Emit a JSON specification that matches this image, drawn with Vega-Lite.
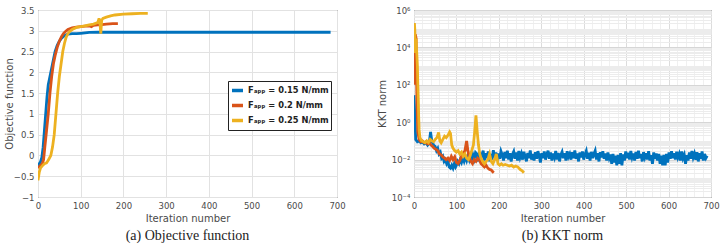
{
  "$schema": "https://vega.github.io/schema/vega-lite/v6.json",
  "padding": {"left": 3, "top": 5, "right": 4, "bottom": 4},
  "bounds": "flush",
  "spacing": 77,
  "config": {
    "font": "DejaVu Sans",
    "view": {"stroke": "#333333", "strokeWidth": 1},
    "axis": {"labelFont": "DejaVu Sans", "labelFontSize": 8.5, "labelColor": "#4a4a4a", "titleFont": "DejaVu Sans", "titleFontSize": 10, "titleColor": "#4a4a4a", "titleFontWeight": "normal", "domain": false, "tickSize": 0, "gridColor": "#e2e2e2", "gridOpacity": 1, "labelPadding": 4, "labelFlush": false},
    "legend": {"strokeColor": "#222222", "fillColor": "white", "padding": 2, "labelFontWeight": "bold", "labelFontSize": 8.3, "labelColor": "#222222", "symbolType": "stroke", "symbolStrokeWidth": 3.5, "symbolSize": 120, "rowPadding": 0, "labelOffset": 3, "cornerRadius": 0},
    "title": {"font": "Liberation Serif", "fontSize": 14, "fontWeight": "normal", "color": "#222222"}
  },
  "datasets": {
    "obj": [
      {"it": 0, "v": -0.25, "s": "0.15"}, {"it": 3, "v": -0.2, "s": "0.15"}, {"it": 6, "v": -0.15, "s": "0.15"}, {"it": 9, "v": -0.05, "s": "0.15"}, {"it": 12, "v": 0.2, "s": "0.15"}, {"it": 15, "v": 0.6, "s": "0.15"}, {"it": 18, "v": 1.0, "s": "0.15"}, {"it": 21, "v": 1.4, "s": "0.15"}, {"it": 24, "v": 1.7, "s": "0.15"}, {"it": 27, "v": 1.85, "s": "0.15"}, {"it": 30, "v": 2.0, "s": "0.15"}, {"it": 33, "v": 2.15, "s": "0.15"}, {"it": 36, "v": 2.3, "s": "0.15"}, {"it": 40, "v": 2.5, "s": "0.15"}, {"it": 45, "v": 2.65, "s": "0.15"}, {"it": 50, "v": 2.75, "s": "0.15"}, {"it": 55, "v": 2.82, "s": "0.15"}, {"it": 60, "v": 2.87, "s": "0.15"}, {"it": 65, "v": 2.9, "s": "0.15"}, {"it": 70, "v": 2.92, "s": "0.15"}, {"it": 80, "v": 2.93, "s": "0.15"}, {"it": 90, "v": 2.93, "s": "0.15"}, {"it": 100, "v": 2.94, "s": "0.15"}, {"it": 110, "v": 2.95, "s": "0.15"}, {"it": 120, "v": 2.96, "s": "0.15"}, {"it": 140, "v": 2.965, "s": "0.15"}, {"it": 300, "v": 2.965, "s": "0.15"}, {"it": 500, "v": 2.965, "s": "0.15"}, {"it": 685, "v": 2.965, "s": "0.15"},
      {"it": 0, "v": -0.3, "s": "0.2"}, {"it": 5, "v": -0.25, "s": "0.2"}, {"it": 10, "v": -0.2, "s": "0.2"}, {"it": 13, "v": -0.1, "s": "0.2"}, {"it": 16, "v": 0.2, "s": "0.2"}, {"it": 20, "v": 0.6, "s": "0.2"}, {"it": 24, "v": 1.0, "s": "0.2"}, {"it": 28, "v": 1.5, "s": "0.2"}, {"it": 32, "v": 1.9, "s": "0.2"}, {"it": 36, "v": 2.2, "s": "0.2"}, {"it": 40, "v": 2.4, "s": "0.2"}, {"it": 45, "v": 2.6, "s": "0.2"}, {"it": 50, "v": 2.75, "s": "0.2"}, {"it": 55, "v": 2.86, "s": "0.2"}, {"it": 60, "v": 2.94, "s": "0.2"}, {"it": 65, "v": 2.99, "s": "0.2"}, {"it": 70, "v": 3.03, "s": "0.2"}, {"it": 80, "v": 3.07, "s": "0.2"}, {"it": 90, "v": 3.09, "s": "0.2"}, {"it": 100, "v": 3.1, "s": "0.2"}, {"it": 110, "v": 3.11, "s": "0.2"}, {"it": 120, "v": 3.12, "s": "0.2"}, {"it": 125, "v": 3.1, "s": "0.2"}, {"it": 130, "v": 3.13, "s": "0.2"}, {"it": 140, "v": 3.14, "s": "0.2"}, {"it": 150, "v": 3.15, "s": "0.2"}, {"it": 160, "v": 3.16, "s": "0.2"}, {"it": 175, "v": 3.17, "s": "0.2"}, {"it": 187, "v": 3.17, "s": "0.2"},
      {"it": 0, "v": -0.6, "s": "0.25"}, {"it": 3, "v": -0.4, "s": "0.25"}, {"it": 6, "v": -0.3, "s": "0.25"}, {"it": 10, "v": -0.25, "s": "0.25"}, {"it": 15, "v": -0.2, "s": "0.25"}, {"it": 20, "v": -0.18, "s": "0.25"}, {"it": 25, "v": -0.1, "s": "0.25"}, {"it": 30, "v": 0.0, "s": "0.25"}, {"it": 34, "v": 0.2, "s": "0.25"}, {"it": 38, "v": 0.5, "s": "0.25"}, {"it": 42, "v": 1.0, "s": "0.25"}, {"it": 46, "v": 1.5, "s": "0.25"}, {"it": 50, "v": 1.9, "s": "0.25"}, {"it": 54, "v": 2.2, "s": "0.25"}, {"it": 58, "v": 2.5, "s": "0.25"}, {"it": 62, "v": 2.7, "s": "0.25"}, {"it": 66, "v": 2.85, "s": "0.25"}, {"it": 70, "v": 2.93, "s": "0.25"}, {"it": 75, "v": 2.99, "s": "0.25"}, {"it": 80, "v": 3.03, "s": "0.25"}, {"it": 90, "v": 3.08, "s": "0.25"}, {"it": 100, "v": 3.1, "s": "0.25"}, {"it": 110, "v": 3.12, "s": "0.25"}, {"it": 120, "v": 3.14, "s": "0.25"}, {"it": 130, "v": 3.16, "s": "0.25"}, {"it": 140, "v": 3.2, "s": "0.25"}, {"it": 143, "v": 3.3, "s": "0.25"}, {"it": 145, "v": 3.2, "s": "0.25"}, {"it": 147, "v": 2.93, "s": "0.25"}, {"it": 149, "v": 3.25, "s": "0.25"}, {"it": 152, "v": 3.3, "s": "0.25"}, {"it": 160, "v": 3.33, "s": "0.25"}, {"it": 170, "v": 3.36, "s": "0.25"}, {"it": 180, "v": 3.38, "s": "0.25"}, {"it": 200, "v": 3.4, "s": "0.25"}, {"it": 220, "v": 3.41, "s": "0.25"}, {"it": 240, "v": 3.42, "s": "0.25"}, {"it": 257, "v": 3.42, "s": "0.25"}
    ],
    "kkt": [
      {"it": 0, "v": 28, "s": "0.15"}, {"it": 2, "v": 2, "s": "0.15"}, {"it": 4, "v": 0.12, "s": "0.15"}, {"it": 8, "v": 0.09, "s": "0.15"}, {"it": 12, "v": 0.1, "s": "0.15"}, {"it": 16, "v": 0.08, "s": "0.15"}, {"it": 20, "v": 0.09, "s": "0.15"}, {"it": 24, "v": 0.07, "s": "0.15"}, {"it": 28, "v": 0.08, "s": "0.15"}, {"it": 32, "v": 0.06, "s": "0.15"}, {"it": 36, "v": 0.08, "s": "0.15"}, {"it": 39, "v": 0.3, "s": "0.15"}, {"it": 42, "v": 0.1, "s": "0.15"}, {"it": 46, "v": 0.06, "s": "0.15"}, {"it": 50, "v": 0.05, "s": "0.15"}, {"it": 53, "v": 0.03, "s": "0.15"}, {"it": 56, "v": 0.04, "s": "0.15"}, {"it": 59, "v": 0.02, "s": "0.15"}, {"it": 62, "v": 0.025, "s": "0.15"}, {"it": 65, "v": 0.012, "s": "0.15"}, {"it": 68, "v": 0.015, "s": "0.15"}, {"it": 71, "v": 0.008, "s": "0.15"}, {"it": 74, "v": 0.01, "s": "0.15"}, {"it": 77, "v": 0.006, "s": "0.15"}, {"it": 80, "v": 0.008, "s": "0.15"}, {"it": 83, "v": 0.004, "s": "0.15"}, {"it": 86, "v": 0.0035, "s": "0.15"}, {"it": 89, "v": 0.005, "s": "0.15"}, {"it": 92, "v": 0.0035, "s": "0.15"}, {"it": 95, "v": 0.006, "s": "0.15"}, {"it": 98, "v": 0.004, "s": "0.15"},
      {"it": 100, "v": 0.005, "s": "0.15"}, {"it": 103, "v": 0.008, "s": "0.15"}, {"it": 106, "v": 0.006, "s": "0.15"}, {"it": 109, "v": 0.01, "s": "0.15"}, {"it": 112, "v": 0.007, "s": "0.15"}, {"it": 115, "v": 0.012, "s": "0.15"}, {"it": 118, "v": 0.008, "s": "0.15"}, {"it": 121, "v": 0.014, "s": "0.15"}, {"it": 124, "v": 0.009, "s": "0.15"}, {"it": 127, "v": 0.016, "s": "0.15"}, {"it": 130, "v": 0.01, "s": "0.15"}, {"it": 133, "v": 0.02, "s": "0.15"}, {"it": 136, "v": 0.009, "s": "0.15"}, {"it": 139, "v": 0.018, "s": "0.15"}, {"it": 142, "v": 0.011, "s": "0.15"}, {"it": 145, "v": 0.024, "s": "0.15"},
      {"it": 148, "v": 0.02, "s": "0.15"}, {"it": 151, "v": 0.008, "s": "0.15"}, {"it": 154, "v": 0.025, "s": "0.15"}, {"it": 157, "v": 0.011, "s": "0.15"}, {"it": 160, "v": 0.018, "s": "0.15"}, {"it": 163, "v": 0.03, "s": "0.15"}, {"it": 166, "v": 0.009, "s": "0.15"}, {"it": 169, "v": 0.022, "s": "0.15"}, {"it": 172, "v": 0.012, "s": "0.15"}, {"it": 175, "v": 0.027, "s": "0.15"}, {"it": 178, "v": 0.008, "s": "0.15"}, {"it": 181, "v": 0.02, "s": "0.15"}, {"it": 184, "v": 0.01, "s": "0.15"}, {"it": 187, "v": 0.032, "s": "0.15"}, {"it": 190, "v": 0.013, "s": "0.15"}, {"it": 193, "v": 0.024, "s": "0.15"}, {"it": 196, "v": 0.009, "s": "0.15"}, {"it": 199, "v": 0.021, "s": "0.15"}, {"it": 202, "v": 0.011, "s": "0.15"}, {"it": 205, "v": 0.028, "s": "0.15"}, {"it": 208, "v": 0.018, "s": "0.15"}, {"it": 211, "v": 0.009, "s": "0.15"}, {"it": 214, "v": 0.026, "s": "0.15"}, {"it": 217, "v": 0.012, "s": "0.15"}, {"it": 220, "v": 0.03, "s": "0.15"}, {"it": 223, "v": 0.01, "s": "0.15"}, {"it": 226, "v": 0.022, "s": "0.15"}, {"it": 229, "v": 0.008, "s": "0.15"}, {"it": 232, "v": 0.019, "s": "0.15"}, {"it": 235, "v": 0.027, "s": "0.15"}, {"it": 238, "v": 0.011, "s": "0.15"}, {"it": 241, "v": 0.024, "s": "0.15"}, {"it": 244, "v": 0.009, "s": "0.15"}, {"it": 247, "v": 0.029, "s": "0.15"}, {"it": 250, "v": 0.013, "s": "0.15"}, {"it": 253, "v": 0.021, "s": "0.15"}, {"it": 256, "v": 0.01, "s": "0.15"}, {"it": 259, "v": 0.026, "s": "0.15"}, {"it": 262, "v": 0.015, "s": "0.15"}, {"it": 265, "v": 0.008, "s": "0.15"}, {"it": 268, "v": 0.023, "s": "0.15"}, {"it": 271, "v": 0.012, "s": "0.15"}, {"it": 274, "v": 0.031, "s": "0.15"}, {"it": 277, "v": 0.01, "s": "0.15"}, {"it": 280, "v": 0.02, "s": "0.15"}, {"it": 283, "v": 0.009, "s": "0.15"}, {"it": 286, "v": 0.025, "s": "0.15"}, {"it": 289, "v": 0.011, "s": "0.15"}, {"it": 292, "v": 0.028, "s": "0.15"}, {"it": 295, "v": 0.016, "s": "0.15"}, {"it": 298, "v": 0.007, "s": "0.15"}, {"it": 301, "v": 0.022, "s": "0.15"}, {"it": 304, "v": 0.012, "s": "0.15"}, {"it": 307, "v": 0.027, "s": "0.15"}, {"it": 310, "v": 0.01, "s": "0.15"}, {"it": 313, "v": 0.019, "s": "0.15"}, {"it": 316, "v": 0.03, "s": "0.15"}, {"it": 319, "v": 0.011, "s": "0.15"}, {"it": 322, "v": 0.024, "s": "0.15"}, {"it": 325, "v": 0.009, "s": "0.15"}, {"it": 328, "v": 0.021, "s": "0.15"}, {"it": 331, "v": 0.013, "s": "0.15"}, {"it": 334, "v": 0.029, "s": "0.15"}, {"it": 337, "v": 0.01, "s": "0.15"}, {"it": 340, "v": 0.023, "s": "0.15"}, {"it": 343, "v": 0.008, "s": "0.15"}, {"it": 346, "v": 0.018, "s": "0.15"}, {"it": 349, "v": 0.026, "s": "0.15"}, {"it": 352, "v": 0.012, "s": "0.15"}, {"it": 355, "v": 0.022, "s": "0.15"}, {"it": 358, "v": 0.009, "s": "0.15"}, {"it": 361, "v": 0.028, "s": "0.15"}, {"it": 364, "v": 0.014, "s": "0.15"}, {"it": 367, "v": 0.02, "s": "0.15"}, {"it": 370, "v": 0.01, "s": "0.15"}, {"it": 373, "v": 0.025, "s": "0.15"}, {"it": 376, "v": 0.012, "s": "0.15"}, {"it": 379, "v": 0.031, "s": "0.15"}, {"it": 382, "v": 0.011, "s": "0.15"}, {"it": 385, "v": 0.021, "s": "0.15"}, {"it": 388, "v": 0.008, "s": "0.15"}, {"it": 391, "v": 0.024, "s": "0.15"}, {"it": 394, "v": 0.013, "s": "0.15"}, {"it": 397, "v": 0.027, "s": "0.15"}, {"it": 400, "v": 0.01, "s": "0.15"}, {"it": 403, "v": 0.019, "s": "0.15"}, {"it": 406, "v": 0.029, "s": "0.15"}, {"it": 409, "v": 0.011, "s": "0.15"}, {"it": 412, "v": 0.023, "s": "0.15"}, {"it": 415, "v": 0.009, "s": "0.15"}, {"it": 418, "v": 0.026, "s": "0.15"}, {"it": 421, "v": 0.012, "s": "0.15"}, {"it": 424, "v": 0.02, "s": "0.15"}, {"it": 427, "v": 0.03, "s": "0.15"}, {"it": 430, "v": 0.01, "s": "0.15"}, {"it": 433, "v": 0.022, "s": "0.15"}, {"it": 436, "v": 0.008, "s": "0.15"}, {"it": 439, "v": 0.025, "s": "0.15"}, {"it": 442, "v": 0.013, "s": "0.15"}, {"it": 445, "v": 0.028, "s": "0.15"}, {"it": 448, "v": 0.011, "s": "0.15"}, {"it": 451, "v": 0.021, "s": "0.15"}, {"it": 454, "v": 0.009, "s": "0.15"}, {"it": 457, "v": 0.024, "s": "0.15"}, {"it": 460, "v": 0.012, "s": "0.15"}, {"it": 463, "v": 0.019, "s": "0.15"}, {"it": 466, "v": 0.006, "s": "0.15"}, {"it": 469, "v": 0.02, "s": "0.15"}, {"it": 472, "v": 0.007, "s": "0.15"}, {"it": 475, "v": 0.016, "s": "0.15"}, {"it": 478, "v": 0.005, "s": "0.15"}, {"it": 481, "v": 0.018, "s": "0.15"}, {"it": 484, "v": 0.006, "s": "0.15"}, {"it": 487, "v": 0.022, "s": "0.15"}, {"it": 490, "v": 0.005, "s": "0.15"}, {"it": 493, "v": 0.019, "s": "0.15"}, {"it": 496, "v": 0.009, "s": "0.15"}, {"it": 499, "v": 0.027, "s": "0.15"}, {"it": 502, "v": 0.012, "s": "0.15"}, {"it": 505, "v": 0.023, "s": "0.15"}, {"it": 508, "v": 0.01, "s": "0.15"}, {"it": 511, "v": 0.029, "s": "0.15"}, {"it": 514, "v": 0.013, "s": "0.15"}, {"it": 517, "v": 0.021, "s": "0.15"}, {"it": 520, "v": 0.009, "s": "0.15"}, {"it": 523, "v": 0.026, "s": "0.15"}, {"it": 526, "v": 0.011, "s": "0.15"}, {"it": 529, "v": 0.03, "s": "0.15"}, {"it": 532, "v": 0.012, "s": "0.15"}, {"it": 535, "v": 0.02, "s": "0.15"}, {"it": 538, "v": 0.008, "s": "0.15"}, {"it": 541, "v": 0.025, "s": "0.15"}, {"it": 544, "v": 0.013, "s": "0.15"}, {"it": 547, "v": 0.022, "s": "0.15"}, {"it": 550, "v": 0.01, "s": "0.15"}, {"it": 553, "v": 0.028, "s": "0.15"}, {"it": 556, "v": 0.009, "s": "0.15"}, {"it": 559, "v": 0.017, "s": "0.15"}, {"it": 562, "v": 0.006, "s": "0.15"}, {"it": 565, "v": 0.024, "s": "0.15"}, {"it": 568, "v": 0.011, "s": "0.15"}, {"it": 571, "v": 0.021, "s": "0.15"}, {"it": 574, "v": 0.009, "s": "0.15"}, {"it": 577, "v": 0.02, "s": "0.15"}, {"it": 580, "v": 0.006, "s": "0.15"}, {"it": 583, "v": 0.016, "s": "0.15"}, {"it": 586, "v": 0.005, "s": "0.15"}, {"it": 589, "v": 0.018, "s": "0.15"}, {"it": 592, "v": 0.005, "s": "0.15"}, {"it": 595, "v": 0.02, "s": "0.15"}, {"it": 598, "v": 0.007, "s": "0.15"}, {"it": 601, "v": 0.024, "s": "0.15"}, {"it": 604, "v": 0.011, "s": "0.15"}, {"it": 607, "v": 0.028, "s": "0.15"}, {"it": 610, "v": 0.012, "s": "0.15"}, {"it": 613, "v": 0.022, "s": "0.15"}, {"it": 616, "v": 0.01, "s": "0.15"}, {"it": 619, "v": 0.026, "s": "0.15"}, {"it": 622, "v": 0.013, "s": "0.15"}, {"it": 625, "v": 0.02, "s": "0.15"}, {"it": 628, "v": 0.009, "s": "0.15"}, {"it": 631, "v": 0.027, "s": "0.15"}, {"it": 634, "v": 0.012, "s": "0.15"}, {"it": 637, "v": 0.018, "s": "0.15"}, {"it": 640, "v": 0.006, "s": "0.15"}, {"it": 643, "v": 0.017, "s": "0.15"}, {"it": 646, "v": 0.009, "s": "0.15"}, {"it": 649, "v": 0.024, "s": "0.15"}, {"it": 652, "v": 0.011, "s": "0.15"}, {"it": 655, "v": 0.029, "s": "0.15"}, {"it": 658, "v": 0.013, "s": "0.15"}, {"it": 661, "v": 0.021, "s": "0.15"}, {"it": 664, "v": 0.01, "s": "0.15"}, {"it": 667, "v": 0.025, "s": "0.15"}, {"it": 670, "v": 0.008, "s": "0.15"}, {"it": 673, "v": 0.022, "s": "0.15"}, {"it": 676, "v": 0.011, "s": "0.15"}, {"it": 679, "v": 0.027, "s": "0.15"}, {"it": 682, "v": 0.009, "s": "0.15"}, {"it": 685, "v": 0.02, "s": "0.15"}, {"it": 688, "v": 0.012, "s": "0.15"}, {"it": 691, "v": 0.016, "s": "0.15"},
      {"it": 0, "v": 100, "s": "0.2"}, {"it": 3, "v": 50000, "s": "0.2"}, {"it": 5, "v": 30000, "s": "0.2"}, {"it": 7, "v": 10, "s": "0.2"}, {"it": 9, "v": 0.3, "s": "0.2"}, {"it": 12, "v": 0.12, "s": "0.2"}, {"it": 16, "v": 0.09, "s": "0.2"}, {"it": 20, "v": 0.1, "s": "0.2"}, {"it": 24, "v": 0.08, "s": "0.2"}, {"it": 28, "v": 0.09, "s": "0.2"}, {"it": 32, "v": 0.07, "s": "0.2"}, {"it": 36, "v": 0.08, "s": "0.2"}, {"it": 40, "v": 0.06, "s": "0.2"}, {"it": 44, "v": 0.05, "s": "0.2"}, {"it": 48, "v": 0.04, "s": "0.2"}, {"it": 52, "v": 0.035, "s": "0.2"}, {"it": 56, "v": 0.03, "s": "0.2"}, {"it": 60, "v": 0.02, "s": "0.2"}, {"it": 64, "v": 0.018, "s": "0.2"}, {"it": 68, "v": 0.014, "s": "0.2"}, {"it": 72, "v": 0.012, "s": "0.2"}, {"it": 76, "v": 0.01, "s": "0.2"}, {"it": 80, "v": 0.012, "s": "0.2"}, {"it": 84, "v": 0.009, "s": "0.2"}, {"it": 88, "v": 0.015, "s": "0.2"}, {"it": 92, "v": 0.01, "s": "0.2"}, {"it": 96, "v": 0.014, "s": "0.2"}, {"it": 100, "v": 0.007, "s": "0.2"}, {"it": 104, "v": 0.006, "s": "0.2"}, {"it": 108, "v": 0.009, "s": "0.2"}, {"it": 112, "v": 0.015, "s": "0.2"}, {"it": 116, "v": 0.02, "s": "0.2"}, {"it": 120, "v": 0.03, "s": "0.2"}, {"it": 124, "v": 0.1, "s": "0.2"}, {"it": 127, "v": 0.03, "s": "0.2"}, {"it": 130, "v": 0.015, "s": "0.2"}, {"it": 134, "v": 0.008, "s": "0.2"}, {"it": 138, "v": 0.006, "s": "0.2"}, {"it": 142, "v": 0.01, "s": "0.2"}, {"it": 146, "v": 0.008, "s": "0.2"}, {"it": 150, "v": 0.012, "s": "0.2"}, {"it": 154, "v": 0.01, "s": "0.2"}, {"it": 158, "v": 0.006, "s": "0.2"}, {"it": 162, "v": 0.005, "s": "0.2"}, {"it": 166, "v": 0.004, "s": "0.2"}, {"it": 170, "v": 0.005, "s": "0.2"}, {"it": 174, "v": 0.0035, "s": "0.2"}, {"it": 178, "v": 0.003, "s": "0.2"}, {"it": 182, "v": 0.0028, "s": "0.2"}, {"it": 186, "v": 0.0022, "s": "0.2"}, {"it": 188, "v": 0.002, "s": "0.2"},
      {"it": 0, "v": 150000, "s": "0.25"}, {"it": 1, "v": 200000, "s": "0.25"}, {"it": 2, "v": 80000, "s": "0.25"}, {"it": 3, "v": 5000, "s": "0.25"}, {"it": 4, "v": 20000, "s": "0.25"}, {"it": 5, "v": 30000, "s": "0.25"}, {"it": 6, "v": 8000, "s": "0.25"}, {"it": 7, "v": 3000, "s": "0.25"}, {"it": 8, "v": 1000, "s": "0.25"}, {"it": 9, "v": 100, "s": "0.25"}, {"it": 10, "v": 20, "s": "0.25"}, {"it": 11, "v": 2, "s": "0.25"}, {"it": 12, "v": 0.4, "s": "0.25"}, {"it": 14, "v": 0.15, "s": "0.25"}, {"it": 18, "v": 0.1, "s": "0.25"}, {"it": 22, "v": 0.09, "s": "0.25"}, {"it": 26, "v": 0.08, "s": "0.25"}, {"it": 30, "v": 0.1, "s": "0.25"}, {"it": 34, "v": 0.08, "s": "0.25"}, {"it": 38, "v": 0.12, "s": "0.25"}, {"it": 42, "v": 0.1, "s": "0.25"}, {"it": 46, "v": 0.09, "s": "0.25"}, {"it": 50, "v": 0.12, "s": "0.25"}, {"it": 54, "v": 0.15, "s": "0.25"}, {"it": 58, "v": 0.28, "s": "0.25"}, {"it": 61, "v": 0.1, "s": "0.25"}, {"it": 64, "v": 0.08, "s": "0.25"}, {"it": 68, "v": 0.12, "s": "0.25"}, {"it": 72, "v": 0.18, "s": "0.25"}, {"it": 76, "v": 0.15, "s": "0.25"}, {"it": 80, "v": 0.2, "s": "0.25"}, {"it": 84, "v": 0.3, "s": "0.25"}, {"it": 86, "v": 0.25, "s": "0.25"}, {"it": 89, "v": 0.06, "s": "0.25"}, {"it": 92, "v": 0.04, "s": "0.25"}, {"it": 96, "v": 0.03, "s": "0.25"}, {"it": 100, "v": 0.025, "s": "0.25"}, {"it": 104, "v": 0.03, "s": "0.25"}, {"it": 108, "v": 0.02, "s": "0.25"}, {"it": 112, "v": 0.025, "s": "0.25"}, {"it": 116, "v": 0.015, "s": "0.25"}, {"it": 120, "v": 0.02, "s": "0.25"}, {"it": 124, "v": 0.012, "s": "0.25"}, {"it": 128, "v": 0.01, "s": "0.25"}, {"it": 132, "v": 0.015, "s": "0.25"}, {"it": 136, "v": 0.03, "s": "0.25"}, {"it": 140, "v": 0.06, "s": "0.25"}, {"it": 143, "v": 0.3, "s": "0.25"}, {"it": 146, "v": 2.3, "s": "0.25"}, {"it": 149, "v": 0.3, "s": "0.25"}, {"it": 152, "v": 0.06, "s": "0.25"}, {"it": 155, "v": 0.02, "s": "0.25"}, {"it": 158, "v": 0.012, "s": "0.25"}, {"it": 162, "v": 0.008, "s": "0.25"}, {"it": 166, "v": 0.006, "s": "0.25"}, {"it": 170, "v": 0.008, "s": "0.25"}, {"it": 174, "v": 0.01, "s": "0.25"}, {"it": 178, "v": 0.02, "s": "0.25"}, {"it": 182, "v": 0.008, "s": "0.25"}, {"it": 186, "v": 0.006, "s": "0.25"}, {"it": 190, "v": 0.01, "s": "0.25"}, {"it": 194, "v": 0.02, "s": "0.25"}, {"it": 198, "v": 0.006, "s": "0.25"}, {"it": 202, "v": 0.005, "s": "0.25"}, {"it": 206, "v": 0.006, "s": "0.25"}, {"it": 210, "v": 0.005, "s": "0.25"}, {"it": 215, "v": 0.0055, "s": "0.25"}, {"it": 220, "v": 0.005, "s": "0.25"}, {"it": 225, "v": 0.0045, "s": "0.25"}, {"it": 230, "v": 0.005, "s": "0.25"}, {"it": 235, "v": 0.004, "s": "0.25"}, {"it": 240, "v": 0.0045, "s": "0.25"}, {"it": 245, "v": 0.004, "s": "0.25"}, {"it": 250, "v": 0.003, "s": "0.25"}, {"it": 255, "v": 0.0025, "s": "0.25"}, {"it": 259, "v": 0.002, "s": "0.25"}
    ]
  },
  "hconcat": [
    {
      "width": 299,
      "height": 187,
      "title": {"text": "(a) Objective function", "orient": "bottom", "offset": 5},
      "data": {"name": "obj"},
      "mark": {"type": "line", "strokeWidth": 2.8, "clip": true},
      "encoding": {
        "x": {"field": "it", "type": "quantitative", "scale": {"domain": [0, 700]}, "axis": {"values": [0, 100, 200, 300, 400, 500, 600, 700], "title": "Iteration number", "titlePadding": 4}},
        "y": {"field": "v", "type": "quantitative", "scale": {"domain": [-1, 3.5]}, "axis": {"values": [-1, -0.5, 0, 0.5, 1, 1.5, 2, 2.5, 3, 3.5], "format": "~f", "title": "Objective function", "titleX": -24}},
        "color": {"field": "s", "type": "nominal", "scale": {"domain": ["0.15", "0.2", "0.25"], "range": ["#0072BD", "#D95319", "#EDB120"]}, "legend": {"orient": "none", "legendX": 190, "legendY": 71, "title": null, "labelExpr": "'Fₐₚₚ = ' + datum.label + ' N/mm'"}}
      }
    },
    {
      "width": 297,
      "height": 187,
      "title": {"text": "(b) KKT norm", "orient": "bottom", "offset": 5},
      "data": {"name": "kkt"},
      "mark": {"type": "line", "strokeWidth": 2.8, "clip": true},
      "encoding": {
        "x": {"field": "it", "type": "quantitative", "scale": {"domain": [0, 700]}, "axis": {"values": [0, 20, 40, 60, 80, 100, 120, 140, 160, 180, 200, 220, 240, 260, 280, 300, 320, 340, 360, 380, 400, 420, 440, 460, 480, 500, 520, 540, 560, 580, 600, 620, 640, 660, 680, 700], "labelExpr": "datum.value % 100 == 0 ? datum.label : ''", "gridColor": {"condition": {"test": "datum.value % 100 == 0", "value": "#dcdcdc"}, "value": "#f0f0f0"}, "title": "Iteration number", "titlePadding": 4}},
        "y": {"field": "v", "type": "quantitative", "scale": {"type": "log", "domain": [0.0001, 1000000]}, "axis": {"values": [0.0001, 0.0002, 0.0003, 0.0004, 0.0005, 0.0006, 0.0007, 0.0008, 0.0009, 0.001, 0.002, 0.003, 0.004, 0.005, 0.006, 0.007, 0.008, 0.009, 0.01, 0.02, 0.03, 0.04, 0.05, 0.06, 0.07, 0.08, 0.09, 0.1, 0.2, 0.3, 0.4, 0.5, 0.6, 0.7, 0.8, 0.9, 1, 2, 3, 4, 5, 6, 7, 8, 9, 10, 20, 30, 40, 50, 60, 70, 80, 90, 100, 200, 300, 400, 500, 600, 700, 800, 900, 1000, 2000, 3000, 4000, 5000, 6000, 7000, 8000, 9000, 10000, 20000, 30000, 40000, 50000, 60000, 70000, 80000, 90000, 100000, 200000, 300000, 400000, 500000, 600000, 700000, 800000, 900000, 1000000], "labelExpr": "datum.value == 1000000 ? '10⁶' : datum.value == 10000 ? '10⁴' : datum.value == 100 ? '10²' : datum.value == 1 ? '10⁰' : datum.value == 0.01 ? '10⁻²' : datum.value == 0.0001 ? '10⁻⁴' : ''", "gridColor": {"condition": {"test": "datum.value == 1000000 || datum.value == 10000 || datum.value == 100 || datum.value == 1 || datum.value == 0.01 || datum.value == 0.0001", "value": "#d6d6d6"}, "value": "#ececec"}, "title": "KKT norm", "titleX": -27}},
        "color": {"field": "s", "type": "nominal", "scale": {"domain": ["0.15", "0.2", "0.25"], "range": ["#0072BD", "#D95319", "#EDB120"]}, "legend": {"orient": "none", "legendX": 188, "legendY": 70, "title": null, "labelExpr": "'Fₐₚₚ = ' + datum.label + ' N/mm'"}}
      }
    }
  ]
}
